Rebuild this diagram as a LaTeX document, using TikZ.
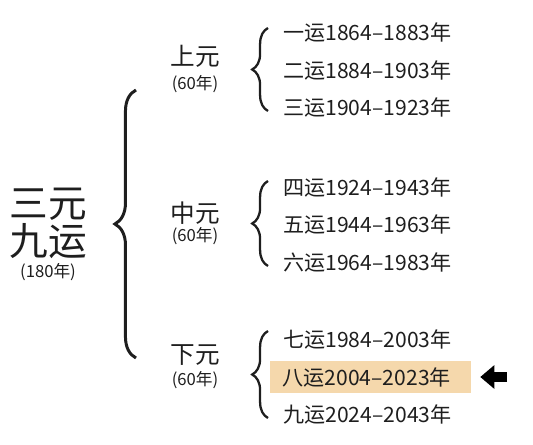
\documentclass[tikz,border=0pt]{standalone}
\usepackage{fontspec}
\setmainfont{Noto Sans CJK SC}
\usetikzlibrary{arrows.meta, positioning, decorations.pathreplacing}
\definecolor{hlbg}{RGB}{245,216,172}
\definecolor{ink}{RGB}{30,30,30}

\begin{document}
\begin{tikzpicture}[
    x=0.02cm, y=-0.02cm,
    text=ink,
    big/.style={font=\fontsize{22}{24}\selectfont, inner sep=0pt},
    yuan/.style={font=\fontsize{14}{16}\selectfont, inner sep=0pt},
    years/.style={font=\fontsize{9.5}{11}\selectfont, inner sep=0pt},
    yun/.style={font=\fontsize{12}{14}\selectfont, anchor=west, inner sep=0pt},
    bigbrace/.style={decorate, decoration={brace, amplitude=12pt}, line width=1.7pt, draw=ink},
    brace/.style={decorate, decoration={brace, amplitude=9pt}, line width=1.3pt, draw=ink},
    arrow/.style={-{Triangle[length=8pt, width=13pt]}, line width=5.5pt, draw=black}
]
    \useasboundingbox (0,0) rectangle (533,445);

    % Left title
    \node[big] (sanyuan) at (48,204) {三元};
    \node[big] (jiuyun) at (48,241) {九运};
    \node[years] (total) at (48,272) {(180年)};
    \draw[bigbrace] (136,358) -- (136,90);

    % Upper
    \node[yuan] (shang) at (195,56) {上元};
    \node[years] (shangyears) at (195,84) {(60年)};
    \draw[brace] (268,111) -- (268,28);
    \node[yun] (yun1) at (283,32) {一运1864–1883年};
    \node[yun] (yun2) at (283,70) {二运1884–1903年};
    \node[yun] (yun3) at (283,107) {三运1904–1923年};

    % Middle
    \node[yuan] (zhong) at (195,213) {中元};
    \node[years] (zhongyears) at (195,236) {(60年)};
    \draw[brace] (268,266) -- (268,181);
    \node[yun] (yun4) at (283,187) {四运1924–1943年};
    \node[yun] (yun5) at (283,224) {五运1944–1963年};
    \node[yun] (yun6) at (283,262) {六运1964–1983年};

    % Lower
    \node[yuan] (xia) at (195,355) {下元};
    \node[years] (xiayears) at (195,380) {(60年)};
    \draw[brace] (268,418) -- (268,331);
    \node[yun] (yun7) at (283,339) {七运1984–2003年};
    \node[yun, fill=hlbg, inner xsep=7pt, minimum height=0.66cm] (yun8) at (270,377) {八运2004–2023年\hspace*{0.16cm}};
    \node[yun] (yun9) at (283,414) {九运2024–2043年};

    % Arrow
    \coordinate (tail) at (507,377);
    \draw[arrow] (tail) -- ([xshift=5]yun8.east);
\end{tikzpicture}
\end{document}
